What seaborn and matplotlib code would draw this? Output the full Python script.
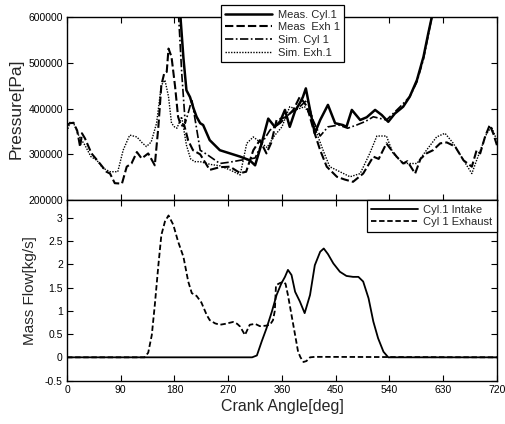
import matplotlib
matplotlib.use("Agg")
import matplotlib.pyplot as plt
import seaborn as sns
import pandas as pd

# pressure traces (deg, kPa)
meas_cyl_deg = [186, 190, 195, 200, 206, 212, 217, 223, 228, 239, 256, 273, 290, 306, 315, 326, 337, 348, 357,
                365, 373, 382, 390, 395, 400, 407, 415, 424, 437, 449, 462, 468, 477, 491, 502, 516, 527, 538,
                549, 563, 574, 586, 597, 605, 611, 616]
meas_cyl_p = [650, 600, 510, 440, 425, 400, 382, 368, 364, 331, 309, 302, 295, 287, 276, 324, 378, 360, 372,
              397, 360, 395, 412, 425, 444, 397, 346, 375, 408, 368, 364, 360, 397, 375, 381, 397, 386, 371,
              389, 404, 426, 462, 513, 564, 600, 650]

meas_exh_deg = [0, 5, 11, 17, 22, 25, 30, 41, 55, 66, 72, 80, 92, 100, 108, 117, 125, 136, 147, 153, 158, 163,
                167, 170, 175, 181, 186, 191, 196, 203, 211, 223, 239, 256, 273, 290, 300, 312, 323, 334, 342,
                351, 368, 379, 390, 402, 413, 424, 435, 452, 465, 479, 496, 513, 522, 535, 540, 552, 563, 570,
                583, 592, 602, 613, 625, 636, 650, 664, 678, 686, 692, 700, 708, 714, 720]
meas_exh_p = [364, 368, 369, 352, 316, 346, 335, 302, 280, 262, 258, 237, 236, 273, 280, 305, 291, 302, 276,
              360, 451, 478, 480, 531, 513, 448, 382, 362, 365, 330, 309, 300, 266, 272, 273, 259, 262, 309,
              331, 302, 325, 375, 382, 397, 426, 404, 353, 309, 273, 251, 245, 240, 258, 295, 290, 324, 315,
              295, 280, 285, 258, 290, 302, 309, 324, 326, 317, 287, 273, 309, 302, 338, 364, 345, 320]

sim_cyl_deg = [184, 187, 192, 198, 205, 209, 214, 223, 234, 256, 273, 290, 306, 315, 328, 340, 357, 373, 390,
               402, 412, 424, 437, 455, 470, 485, 500, 513, 535, 558, 574, 586, 597, 605, 611, 616]
sim_cyl_p = [650, 600, 480, 368, 400, 420, 380, 309, 300, 280, 283, 287, 290, 292, 328, 353, 368, 389, 404,
             419, 375, 340, 360, 364, 357, 364, 372, 382, 375, 404, 426, 458, 508, 560, 600, 650]

sim_exh_deg = [0, 5, 12, 20, 30, 40, 50, 60, 72, 85, 94, 105, 117, 126, 133, 141, 150, 158, 164, 170, 175, 180,
               184, 192, 200, 207, 214, 223, 240, 256, 273, 290, 301, 312, 325, 335, 347, 360, 373, 385, 398,
               410, 420, 430, 440, 457, 474, 491, 507, 519, 535, 546, 563, 586, 602, 619, 633, 647, 664, 678,
               686, 703, 711, 720]
sim_exh_p = [350, 370, 365, 340, 320, 295, 287, 270, 262, 262, 309, 342, 338, 325, 317, 327, 368, 451, 462, 426,
             368, 360, 357, 382, 320, 290, 284, 284, 278, 275, 266, 255, 324, 338, 325, 315, 340, 360, 404, 398,
             404, 380, 340, 305, 273, 262, 251, 258, 302, 340, 340, 302, 280, 280, 309, 338, 346, 324, 287, 258,
             287, 346, 360, 330]

# mass flow traces (deg, kg/s)
intake_deg = [0, 310, 318, 326, 334, 343, 351, 359, 365, 370, 376, 382, 390, 398, 407, 415, 424, 430, 437, 446,
              457, 468, 479, 488, 496, 505, 513, 521, 530, 538, 720]
intake_m = [0, 0, 0.04, 0.34, 0.62, 0.98, 1.34, 1.59, 1.73, 1.88, 1.77, 1.41, 1.20, 0.95, 1.34, 1.98, 2.27,
            2.34, 2.22, 2.02, 1.84, 1.75, 1.73, 1.73, 1.63, 1.27, 0.77, 0.41, 0.12, 0, 0]

exhaust_deg = [0, 130, 136, 142, 147, 153, 158, 164, 170, 178, 186, 195, 203, 209, 217, 225, 234, 239, 248, 256,
               265, 278, 285, 290, 298, 306, 315, 323, 333, 340, 345, 348, 350, 357, 363, 366, 370, 376, 382,
               387, 391, 396, 401, 407, 415, 720]
exhaust_m = [0, 0, 0.1, 0.48, 1.12, 1.98, 2.63, 2.92, 3.05, 2.85, 2.49, 2.16, 1.63, 1.38, 1.32, 1.18, 0.91, 0.80,
             0.73, 0.70, 0.72, 0.76, 0.72, 0.66, 0.48, 0.70, 0.72, 0.67, 0.68, 0.70, 0.80, 1.0, 1.55, 1.6, 1.62,
             1.58, 1.34, 0.91, 0.48, 0.12, 0.0, -0.1, -0.08, 0.0, 0.01, 0]

x_ticks = [0, 90, 180, 270, 360, 450, 540, 630, 720]
p_ticks = [200000, 300000, 400000, 500000, 600000]
m_ticks = [-0.5, 0, 0.5, 1, 1.5, 2, 2.5, 3]
m_labels = ["-0.5", "0", "0.5", "1", "1.5", "2", "2.5", "3"]

sns.set_style("ticks")
plt.rcParams['font.family'] = ['Liberation Sans', 'DejaVu Sans']

fig = plt.figure(figsize=(5.05, 4.24), dpi=100)
ax1 = fig.add_axes([0.1327, 0.528, 0.8513, 0.432])
ax2 = fig.add_axes([0.1327, 0.1024, 0.8513, 0.4256])

pressure = [
    ("Meas. Cyl.1", meas_cyl_deg, meas_cyl_p, "-", 1.8),
    ("Meas  Exh 1", meas_exh_deg, meas_exh_p, (0, (4, 1.5)), 1.5),
    ("Sim. Cyl 1", sim_cyl_deg, sim_cyl_p, (0, (5, 1.5, 1, 1.5)), 1.2),
    ("Sim. Exh.1", sim_exh_deg, sim_exh_p, (0, (1, 1)), 1.0),
]
for name, d, p, ls, lw in pressure:
    df = pd.DataFrame({"deg": d, "p": [v * 1000 for v in p]})
    sns.lineplot(data=df, x="deg", y="p", ax=ax1, color="black", linestyle=ls, linewidth=lw,
                 label=name, sort=False)

flows = [
    ("Cyl.1 Intake", intake_deg, intake_m, "-", 1.3),
    ("Cyl 1 Exhaust", exhaust_deg, exhaust_m, (0, (3, 1.5)), 1.3),
]
for name, d, m, ls, lw in flows:
    df = pd.DataFrame({"deg": d, "m": m})
    sns.lineplot(data=df, x="deg", y="m", ax=ax2, color="black", linestyle=ls, linewidth=lw,
                 label=name, sort=False)

ax1.set_xlim(0, 720)
ax1.set_ylim(200000, 600000)
ax1.set_xticks(x_ticks)
ax1.set_xticklabels([])
ax1.set_yticks(p_ticks)
ax1.set_yticklabels([str(v) for v in p_ticks])
ax1.set_xlabel("")
ax1.set_ylabel("Pressure[Pa]", fontsize=12.5, labelpad=3)

ax2.set_xlim(0, 720)
ax2.set_ylim(-0.5, 3.38)
ax2.set_xticks(x_ticks)
ax2.set_xticklabels([str(v) for v in x_ticks])
ax2.set_yticks(m_ticks)
ax2.set_yticklabels(m_labels)
ax2.set_xlabel("Crank Angle[deg]", fontsize=11.5, labelpad=3)
ax2.set_ylabel("Mass Flow[kg/s]", fontsize=11, labelpad=6)

for ax in (ax1, ax2):
    ax.tick_params(direction="in", top=True, right=True, length=4, width=0.8,
                   labelsize=7.5, colors="black", pad=3)
    for s in ax.spines.values():
        s.set_linewidth(1.0)
        s.set_color("black")
        s.set_visible(True)

leg1 = ax1.legend(loc="upper left", bbox_to_anchor=(0.4376, 0.988), bbox_transform=fig.transFigure,
                  frameon=True, fancybox=False, edgecolor="black", framealpha=1, fontsize=8,
                  handlelength=4.2, borderaxespad=0, labelspacing=0.25, borderpad=0.4, handletextpad=0.5)
leg1.get_frame().set_linewidth(0.9)
leg1.set_zorder(5)
leg2 = ax2.legend(loc="upper right", bbox_to_anchor=(1.0, 1.0), frameon=True, fancybox=False,
                  edgecolor="black", framealpha=1, fontsize=8, handlelength=4.2, borderaxespad=0,
                  labelspacing=0.25, borderpad=0.4, handletextpad=0.5)
leg2.get_frame().set_linewidth(0.9)

fig.savefig("out.png", dpi=100)
